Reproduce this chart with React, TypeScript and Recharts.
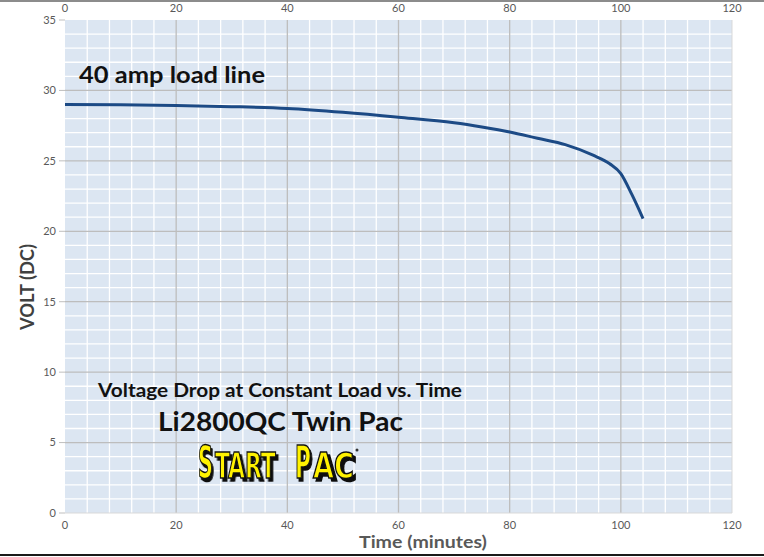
import React from "react";
import {
  LineChart,
  Line,
  XAxis,
  YAxis,
  CartesianGrid,
  ReferenceLine,
} from "recharts";

const minutes = [0, 10, 20, 30, 40, 50, 60, 70, 75, 80, 85, 90, 95, 98, 100, 102, 104];
const volts = [29.0, 28.98, 28.93, 28.85, 28.72, 28.45, 28.1, 27.7, 27.4, 27.05, 26.6, 26.15, 25.4, 24.8, 24.1, 22.6, 20.9];

const xTicks = [0, 20, 40, 60, 80, 100, 120];
const yTicks = [0, 5, 10, 15, 20, 25, 30, 35];
const xMinor = [4, 8, 12, 16, 24, 28, 32, 36, 44, 48, 52, 56, 64, 68, 72, 76, 84, 88, 92, 96, 104, 108, 112, 116];
const yMinor = [1, 2, 3, 4, 6, 7, 8, 9, 11, 12, 13, 14, 16, 17, 18, 19, 21, 22, 23, 24, 26, 27, 28, 29, 31, 32, 33, 34];
const xMajor = [20, 40, 60, 80, 100];
const yMajor = [5, 10, 15, 20, 25, 30];

const data = minutes.map((m, i) => ({ t: m, v: volts[i] }));

const FONT = "Lato, 'Open Sans', sans-serif";
const LOGO_FONT = "'Liberation Sans Narrow', 'DejaVu Sans Condensed', sans-serif";
const tickStyle = { fontSize: 11, fill: "#595959", fontFamily: FONT };

const logoProps = {
  fontFamily: LOGO_FONT,
  fontWeight: 700,
  fill: "#fff200",
  stroke: "#111",
  strokeWidth: 1.5,
  filter: "url(#logoShadow)",
  lengthAdjust: "spacingAndGlyphs",
  x: 0,
  y: 0,
} as const;

export default function App() {
  return (
    <div style={{ position: "absolute", left: 0, top: 0, width: 764, height: 557, background: "#fff" }}>
      <LineChart width={764} height={557} data={data} margin={{ top: 0, right: 0, bottom: 0, left: 0 }}>
        <CartesianGrid
          xAxisId="bottom"
          yAxisId="left"
          fill="#dce6f2"
          stroke="none"
          horizontal={false}
          vertical={false}
        />
        <XAxis
          xAxisId="bottom"
          dataKey="t"
          type="number"
          domain={[0, 120]}
          ticks={xTicks}
          orientation="bottom"
          height={44}
          tick={tickStyle}
          tickLine={false}
          axisLine={{ stroke: "#d9d9d9" }}
          tickSize={4}
          tickMargin={4}
        />
        <XAxis
          xAxisId="top"
          dataKey="t"
          type="number"
          domain={[0, 120]}
          ticks={xTicks}
          orientation="top"
          height={20}
          tick={tickStyle}
          tickLine={false}
          axisLine={false}
          tickSize={2}
          tickMargin={6}
        />
        <YAxis
          yAxisId="left"
          type="number"
          domain={[0, 35]}
          ticks={yTicks}
          orientation="left"
          width={65}
          tick={tickStyle}
          tickLine={{ stroke: "#bfbfbf" }}
          tickSize={6}
          axisLine={false}
          tickMargin={3}
        />
        <YAxis
          yAxisId="right"
          type="number"
          domain={[0, 35]}
          ticks={yTicks}
          orientation="right"
          width={32}
          tick={tickStyle}
          tickLine={{ stroke: "#bfbfbf" }}
          tickSize={5}
          axisLine={false}
          tickMargin={3}
        />
        {xMinor.map((x) => (
          <ReferenceLine key={"xm" + x} x={x} xAxisId="bottom" yAxisId="left" stroke="#ffffff" strokeWidth={1.3} />
        ))}
        {yMinor.map((y) => (
          <ReferenceLine key={"ym" + y} y={y} xAxisId="bottom" yAxisId="left" stroke="#ffffff" strokeWidth={1.3} />
        ))}
        {xMajor.map((x) => (
          <ReferenceLine key={"xM" + x} x={x} xAxisId="bottom" yAxisId="left" stroke="#bdbdbd" strokeWidth={1.3} />
        ))}
        {yMajor.map((y) => (
          <ReferenceLine key={"yM" + y} y={y} xAxisId="bottom" yAxisId="left" stroke="#bdbdbd" strokeWidth={1.3} />
        ))}
        <ReferenceLine x={120} xAxisId="bottom" yAxisId="left" stroke="#d9d9d9" strokeWidth={1} />
        <Line
          xAxisId="bottom"
          yAxisId="left"
          dataKey="v"
          type="monotone"
          stroke="#1c4a85"
          strokeWidth={3}
          dot={false}
          isAnimationActive={false}
        />
      </LineChart>
      <svg
        width={764}
        height={557}
        style={{ position: "absolute", left: 0, top: 0, pointerEvents: "none" }}
      >
        <defs>
          <filter id="logoShadow" x="-20%" y="-20%" width="150%" height="150%">
            <feDropShadow dx={3} dy={3} stdDeviation={0.3} floodColor="#111" floodOpacity={1} />
          </filter>
        </defs>
        <line x1={0} y1={1} x2={764} y2={1} stroke="#8c8c8c" strokeWidth={2} />
        <line x1={0} y1={555} x2={764} y2={555} stroke="#1a1a1a" strokeWidth={2} />
        <text x={79} y={83} fontFamily={FONT} fontWeight={700} fontSize={23} fill="#111" textLength={186} lengthAdjust="spacingAndGlyphs">
          40 amp load line
        </text>
        <text x={98} y={397} fontFamily={FONT} fontWeight={700} fontSize={19} fill="#111" textLength={364} lengthAdjust="spacingAndGlyphs">
          Voltage Drop at Constant Load vs. Time
        </text>
        <text x={158} y={431} fontFamily={FONT} fontWeight={700} fontSize={26} fill="#111" textLength={245} lengthAdjust="spacingAndGlyphs">
          Li2800QC Twin Pac
        </text>
        <text
          x={0}
          y={0}
          transform="translate(34,287) rotate(-90)"
          textAnchor="middle"
          fontFamily={FONT}
          fontWeight={700}
          fontSize={18}
          fill="#404040"
          textLength={86}
          lengthAdjust="spacingAndGlyphs"
        >
          VOLT (DC)
        </text>
        <text x={359} y={548} fontFamily={FONT} fontWeight={700} fontSize={17} fill="#595959" textLength={128} lengthAdjust="spacingAndGlyphs">
          Time (minutes)
        </text>
        <text {...logoProps} transform="translate(198,478) scale(0.6,1)" fontSize={45} textLength={25}>S</text>
        <text {...logoProps} transform="translate(215,478) scale(0.8,1)" fontSize={35} textLength={76}>TART</text>
        <text {...logoProps} transform="translate(295,478) scale(0.65,1)" fontSize={45} textLength={24.6}>P</text>
        <text {...logoProps} transform="translate(313,478)" fontSize={35} textLength={41}>AC</text>
        <circle cx={357} cy={450} r={1.5} fill="#333" />
      </svg>
    </div>
  );
}
